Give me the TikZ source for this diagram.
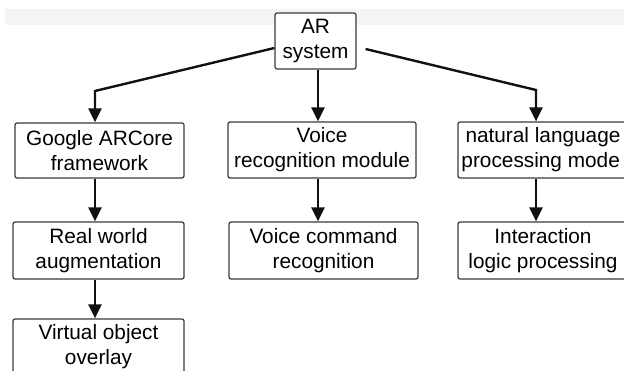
\documentclass[tikz,border=0pt]{standalone}
\usepackage{fontspec}
\setmainfont{Liberation Sans}
\usetikzlibrary{arrows.meta}
\definecolor{boxc}{HTML}{3A3A3A}
\definecolor{linec}{HTML}{111111}
\definecolor{bandc}{HTML}{F4F4F4}
\begin{document}
\begin{tikzpicture}[x=1pt,y=-1pt,
  box/.style={draw=boxc, line width=1.2pt, rounded corners=2pt, align=center,
    inner sep=0pt, font=\fontsize{20.8}{25}\selectfont, text=black},
  arr/.style={draw=linec, line width=2.4pt, -{Triangle[length=14pt,width=13pt]}}]
\useasboundingbox (0,0) rectangle (624,371);
\clip (0,0) rectangle (624,371);
\fill[bandc] (5,9) rectangle (624,25);
% nodes
\node[box, fill=white, minimum width=81pt, minimum height=56pt] (ar) at (315.5,41) {AR\\system};
\node[box, minimum width=169pt, minimum height=55pt] (google) at (99.5,150.5) {Google ARCore\\framework};
\node[box, minimum width=188pt, minimum height=56pt] (voice) at (322,150) {Voice\\recognition module};
\node[box, minimum width=190pt, minimum height=56pt] (nlp) at (553,150) {natural language\hspace*{20pt}\\processing mode\phantom{l}\hspace*{20pt}};
\node[box, minimum width=171pt, minimum height=57pt] (real) at (98.5,250.5) {Real world\\augmentation};
\node[box, minimum width=189pt, minimum height=57pt] (vcmd) at (323.5,250.5) {Voice command\\recognition};
\node[box, minimum width=190pt, minimum height=57pt] (inter) at (553,250.5) {Interaction\hspace*{20pt}\\logic processing\hspace*{20pt}};
\node[box, minimum width=171pt, minimum height=56pt] (virt) at (98.5,347) {Virtual object\\overlay};
% routing coordinates
\coordinate (cl) at (95,91);
\coordinate (cr) at (536,90);
\coordinate (cm) at (318,0);
% connectors
\draw[arr] ([yshift=-7pt]ar.west) -- (cl) -- (cl |- google.north);
\draw[arr] (ar.south -| cm) -- (cm |- voice.north);
\draw[arr] ([xshift=9pt,yshift=-8pt]ar.east) -- (cr) -- (cr |- nlp.north);
\draw[arr] (google.south -| cl) -- (cl |- real.north);
\draw[arr] (real.south -| cl) -- (cl |- virt.north);
\draw[arr] (voice.south -| cm) -- (cm |- vcmd.north);
\draw[arr] (nlp.south -| cr) -- (cr |- inter.north);
\end{tikzpicture}
\end{document}
